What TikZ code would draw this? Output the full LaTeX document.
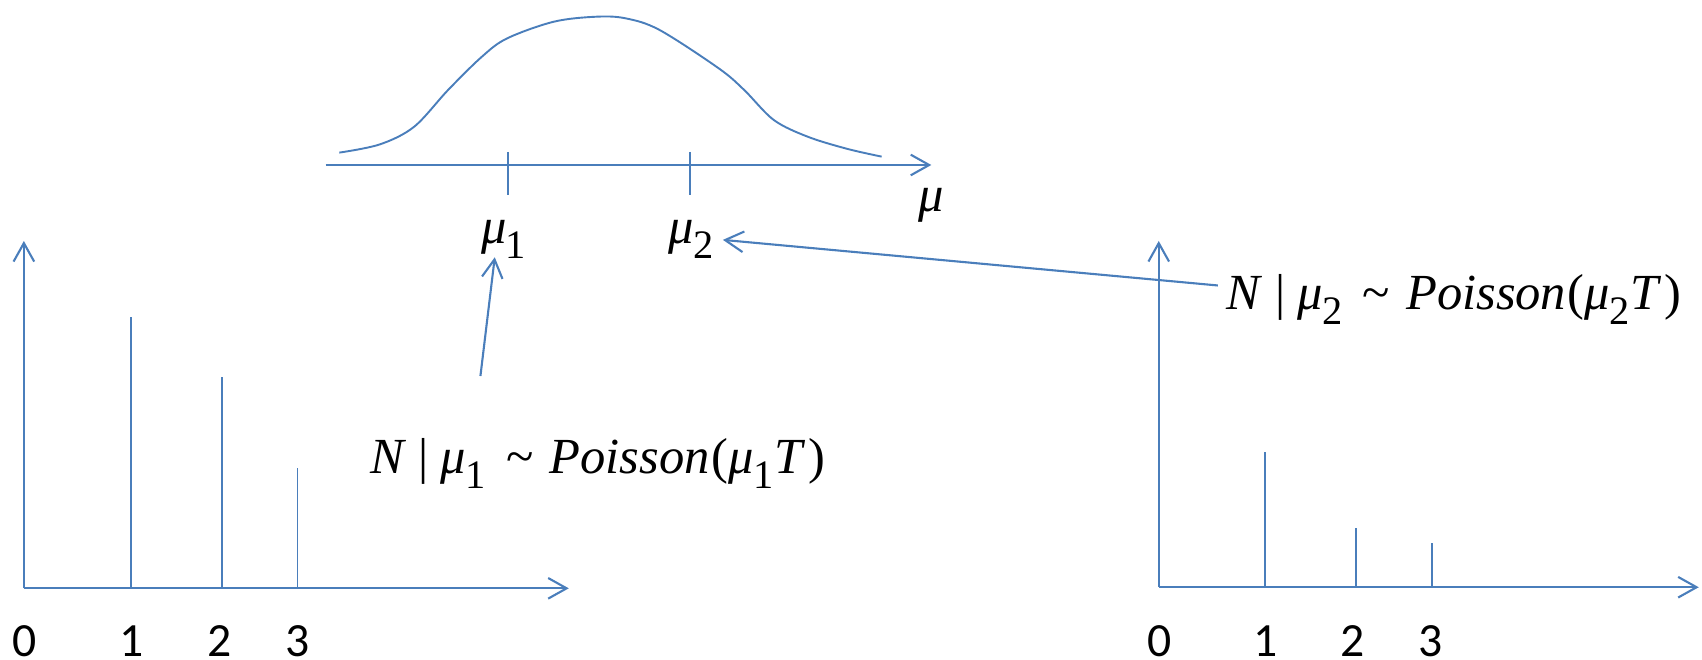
\documentclass[tikz,border=0pt]{standalone}
\usepackage{fontspec}
\usepackage{graphicx}
\setmainfont{Liberation Serif}
\newfontfamily\digitfont{Carlito}
\usetikzlibrary{arrows.meta}
\definecolor{axisblue}{RGB}{74,126,187}
\newcommand\sbs[1]{\kern-0.01em\raisebox{-0.3em}{\scalebox{0.8}{#1}}}
\newcommand\muit{\textit{μ}}
\newcommand\expr[1]{\textit{N}\hspace{0.24em}|\hspace{0.24em}\muit\sbs{#1}\hspace{0.4em}\textasciitilde\hspace{0.32em}\textit{Poisson}\kern0.03em(\muit\sbs{#1}\kern0.02em\textit{T}\kern0.06em)}
\begin{document}
\begin{tikzpicture}[x=0.02cm,y=-0.02cm,
  barb/.style={-{Straight Barb[length=0.34cm,width=0.38cm]}},
  axisline/.style={draw=axisblue,line width=1.1pt,barb},
  barline/.style={draw=axisblue,line width=0.8pt},
  conn/.style={draw=axisblue,line width=1.1pt,barb},
  mathlbl/.style={font=\fontsize{26.5}{30}\selectfont,inner sep=0pt},
  digit/.style={font=\digitfont\fontsize{25}{28}\selectfont,inner sep=0pt,anchor=base}]
\useasboundingbox (0,0) rectangle (1568,608);
% ---------- top: density over mu ----------
\coordinate (muA) at (300,152);
\coordinate (muB) at (858,152);
\draw[axisline] (muA) -- (muB);
\coordinate (t1a) at (468,140); \coordinate (t1b) at (468,180);
\coordinate (t2a) at (636,140); \coordinate (t2b) at (636,180);
\draw[barline,line width=1pt] (t1a) -- (t1b);
\draw[barline,line width=1pt] (t2a) -- (t2b);
\draw[barline,line width=1pt] plot[smooth,tension=0.55] coordinates {
 (312.6,140.6) (350,133) (381.6,116.7) (412.8,82.9) (444,52.2) (467.3,35.3)
 (510.2,20) (549.2,15.4) (576.4,16.9) (607.6,27.6) (662.2,63) (685.6,82.9)
 (712.8,110.5) (744,125.9) (780,137) (812.2,144.3)};
\node[mathlbl,anchor=base] (mulab) at (858,195) {\muit};
\node[mathlbl,anchor=base] (mu1) at (464,224) {\muit\sbs{1}};
\node[mathlbl,anchor=base] (mu2) at (637,224) {\muit\sbs{2}};
% ---------- left chart ----------
\coordinate (LO) at (22,542);
\coordinate (LY) at (22,222);
\coordinate (LX) at (524,542);
\draw[axisline] (LO) -- (LY);
\draw[axisline] (LO) -- (LX);
\coordinate (lb1) at (120.5,292); \coordinate (lb1o) at (120.5,542);
\coordinate (lb2) at (204.5,347); \coordinate (lb2o) at (204.5,542);
\coordinate (lb3) at (274,431);   \coordinate (lb3o) at (274,542);
\draw[barline] (lb1o) -- (lb1);
\draw[barline] (lb2o) -- (lb2);
\draw[barline] (lb3o) -- (lb3);
\node[digit] (l0) at (23,605) {0};
\node[digit] (l1) at (121.5,605) {1};
\node[digit] (l2) at (202,605) {2};
\node[digit] (l3) at (274,605) {3};
\node[mathlbl,anchor=base west] (exp1) at (341,436.5) {\expr{1}};
\coordinate (a1s) at (442.6,346.4);
\coordinate (a1e) at (455.8,237);
\draw[conn] (a1s) -- (a1e);
% ---------- right chart ----------
\coordinate (RO) at (1067.5,541);
\coordinate (RY) at (1067.5,222);
\coordinate (RX) at (1565,541);
\draw[axisline] (RO) -- (RY);
\draw[axisline] (RO) -- (RX);
\coordinate (rb1) at (1165.5,416.7); \coordinate (rb1o) at (1165.5,541);
\coordinate (rb2) at (1249,486.7);   \coordinate (rb2o) at (1249,541);
\coordinate (rb3) at (1319,500.5);   \coordinate (rb3o) at (1319,541);
\draw[barline] (rb1o) -- (rb1);
\draw[barline] (rb2o) -- (rb2);
\draw[barline] (rb3o) -- (rb3);
\node[digit] (r0) at (1068,605) {0};
\node[digit] (r1) at (1165.5,605) {1};
\node[digit] (r2) at (1246,605) {2};
\node[digit] (r3) at (1318,605) {3};
\node[mathlbl,anchor=base west] (exp2) at (1130,285) {\expr{2}};
\coordinate (a2s) at (1122,263);
\coordinate (a2e) at (666,221);
\draw[conn] (a2s) -- (a2e);
\end{tikzpicture}
\end{document}
